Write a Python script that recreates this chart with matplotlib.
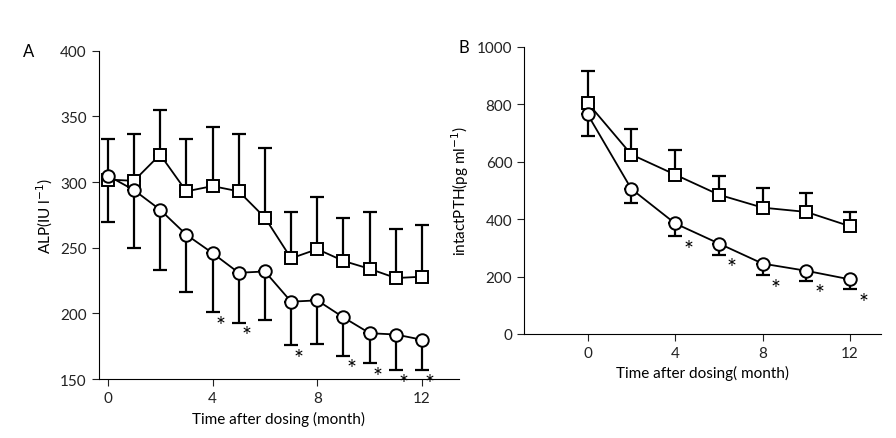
import numpy as np
import matplotlib.pyplot as plt

plt.rcParams['font.family'] = ['Lato', 'DejaVu Sans']

# Panel A: ALP
months_a = np.arange(13)
alp_sq = [302, 301, 321, 293, 297, 293, 273, 242, 249, 240, 234, 227, 228]
alp_sq_hi = [333, 337, 355, 333, 342, 337, 326, 277, 289, 273, 277, 264, 267]
alp_ci = [305, 294, 279, 260, 246, 231, 232, 209, 210, 197, 185, 184, 180]
alp_ci_lo = [270, 250, 233, 216, 201, 193, 195, 176, 177, 168, 162, 157, 157]
stars_a = [4, 5, 7, 9, 10, 11, 12]

# Panel B: intact PTH
months_b = np.arange(0, 13, 2)
pth_sq = [805, 625, 555, 485, 440, 425, 375]
pth_sq_hi = [915, 715, 640, 550, 510, 490, 425]
pth_ci = [765, 505, 385, 315, 245, 220, 190]
pth_ci_lo = [690, 455, 340, 275, 205, 185, 155]
stars_b = [4, 6, 8, 10, 12]

fig = plt.figure(figsize=(8.96, 4.39), dpi=100)
axA = fig.add_axes([0.11, 0.134, 0.402, 0.748])
axB = fig.add_axes([0.585, 0.237, 0.398, 0.654])

def style(ax):
    for s in ['top', 'right']:
        ax.spines[s].set_visible(False)
    ax.tick_params(direction='out', length=5, labelsize=11, colors='#222')

def draw(ax, x, sq, sq_hi, ci, ci_lo, stars, ms, cap, dy, dx):
    sq = np.array(sq); ci = np.array(ci)
    ax.errorbar(x, sq, yerr=[np.zeros_like(sq), np.array(sq_hi) - sq], fmt='none',
                ecolor='k', elinewidth=1.6, capsize=cap, capthick=1.6, zorder=1)
    ax.errorbar(x, ci, yerr=[ci - np.array(ci_lo), np.zeros_like(ci)], fmt='none',
                ecolor='k', elinewidth=1.6, capsize=cap, capthick=1.6, zorder=1)
    ax.plot(x, sq, '-s', color='k', mfc='white', mec='k', ms=ms, mew=1.4, lw=1.3, zorder=3)
    ax.plot(x, ci, '-o', color='k', mfc='white', mec='k', ms=ms, mew=1.4, lw=1.3, zorder=3)
    lo = dict(zip(x, ci_lo))
    for m in stars:
        ax.text(m + dx, lo[m] - dy, '*', ha='center', va='center', fontsize=17,
                clip_on=False)

draw(axA, months_a, alp_sq, alp_sq_hi, alp_ci, alp_ci_lo, stars_a, 9, 5, 10, 0.3)
axA.set_xlim(-0.35, 13.4)
axA.set_ylim(150, 400)
axA.set_xticks([0, 4, 8, 12])
axA.set_yticks([150, 200, 250, 300, 350, 400])
axA.set_ylabel('ALP(IU l$^{-1}$)', fontsize=11)
axA.set_xlabel('Time after dosing (month)', fontsize=11)
style(axA)
axA.text(-0.21, 1.0, 'A', transform=axA.transAxes, fontsize=12, va='center')

draw(axB, months_b, pth_sq, pth_sq_hi, pth_ci, pth_ci_lo, stars_b, 9, 5, 45, 0.6)
axB.set_xlim(-2.9, 13.4)
axB.set_ylim(0, 1000)
axB.set_xticks([0, 4, 8, 12])
axB.set_yticks([0, 200, 400, 600, 800, 1000])
axB.set_ylabel('intactPTH(pg ml$^{-1}$)', fontsize=11)
axB.set_xlabel('Time after dosing( month)', fontsize=11)
style(axB)
axB.text(-0.185, 1.0, 'B', transform=axB.transAxes, fontsize=12, va='center')

fig.savefig('out.png', dpi=100)
